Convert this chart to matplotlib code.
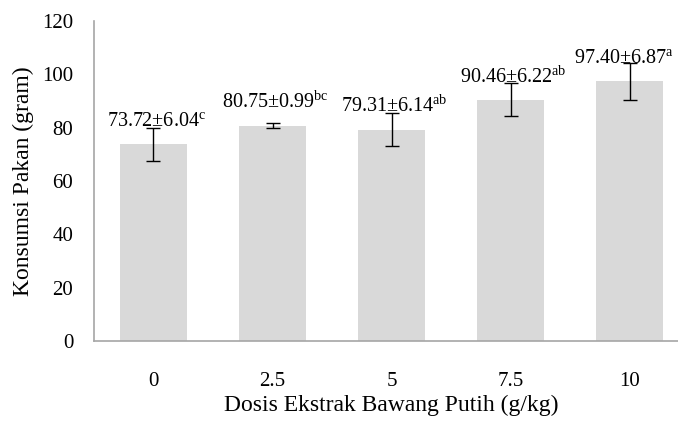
import numpy as np
import matplotlib
matplotlib.use("Agg")
import matplotlib.pyplot as plt

plt.rcParams['font.family'] = ['Liberation Serif', 'DejaVu Serif']
plt.rcParams['mathtext.fontset'] = 'custom'
plt.rcParams['mathtext.rm'] = 'Liberation Serif'

# Garlic extract dose vs feed consumption
doses = ['0', '2.5', '5', '7.5', '10']
konsumsi = [73.72, 80.75, 79.31, 90.46, 97.40]
sd = [6.04, 0.99, 6.14, 6.22, 6.87]
notasi = ['c', 'bc', 'ab', 'ab', 'a']

fig = plt.figure(figsize=(6.78, 4.21), dpi=100)
ax = fig.add_axes([0.1386, 0.19, 0.878, 0.76])

x = np.arange(len(doses))
ax.bar(x, konsumsi, width=0.56, color='#d9d9d9', zorder=2)
ax.errorbar(x, konsumsi, yerr=sd, fmt='none', ecolor='black',
            elinewidth=1, capsize=5, capthick=1, zorder=3)

for i, (xi, v, s, n) in enumerate(zip(x, konsumsi, sd, notasi)):
    # the last label sits close to the figure edge, pull it in a little
    dx = -4 if i == len(x) - 1 else 2
    ax.annotate(f'{v:.2f}±{s:.2f}' + r'$^{\mathrm{' + n + '}}$',
                xy=(xi, v), xytext=(dx, 9), textcoords='offset points',
                ha='center', va='bottom', fontsize=14.5)

ax.set_xlim(-0.5, len(doses) - 0.5)
ax.set_ylim(0, 120)
ax.set_yticks(np.arange(0, 121, 20))
ax.set_xticks(x)
ax.set_xticklabels(doses)
ax.tick_params(axis='both', length=0, labelsize=15)
ax.tick_params(axis='x', pad=22)
ax.tick_params(axis='y', pad=15)

for side in ['top', 'right']:
    ax.spines[side].set_visible(False)
for side in ['left', 'bottom']:
    ax.spines[side].set_color('#a6a6a6')
    ax.spines[side].set_linewidth(1.2)

ax.set_xlabel('Dosis Ekstrak Bawang Putih (g/kg)', fontsize=17, labelpad=3)
ax.set_ylabel('Konsumsi Pakan (gram)', fontsize=17, labelpad=6)

fig.savefig('out.png', dpi=100)
